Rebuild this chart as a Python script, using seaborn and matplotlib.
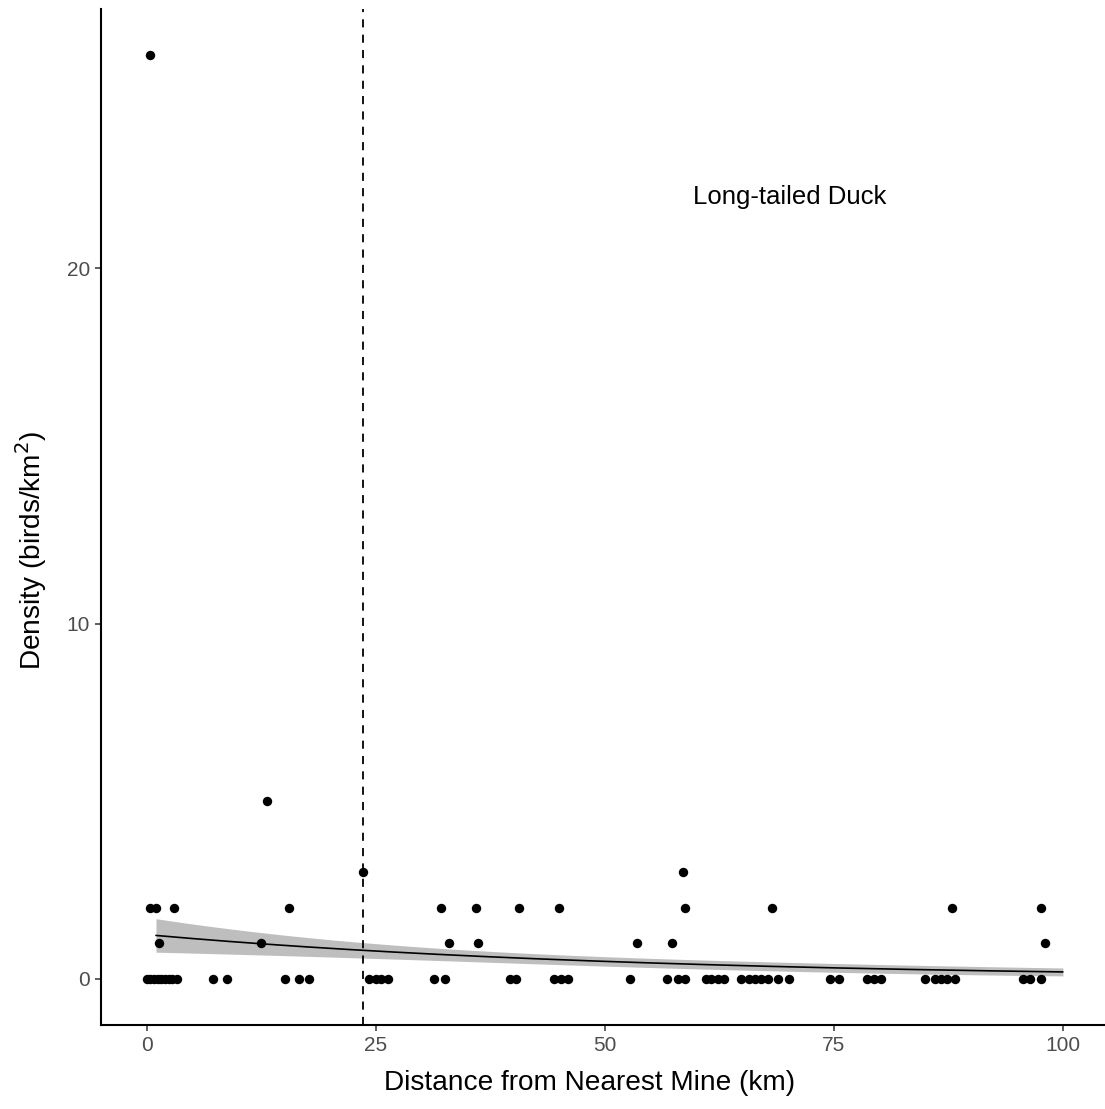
import numpy as np
import pandas as pd
import matplotlib
matplotlib.use("Agg")
import matplotlib.pyplot as plt
import seaborn as sns

# Survey transects: distance to the nearest mine (km) and Long-tailed Duck density
distance_km = [
    # zero-density transects
    0.0, 0.4, 0.8, 1.2, 1.6, 2.0, 2.4, 2.8, 3.3,
    7.2, 8.7, 15.1, 16.6, 17.7,
    24.3, 25.0, 25.6, 26.3, 31.4, 32.5, 39.6, 40.3,
    44.5, 45.2, 46.0, 52.7, 56.8, 58.0, 58.8,
    61.0, 61.6, 62.3, 63.0, 64.9, 65.7, 66.4, 67.1, 67.8, 68.9, 70.1,
    74.6, 75.6, 78.6, 79.4, 80.2, 84.9, 86.0, 86.7, 87.4, 88.2,
    95.7, 96.4, 97.6,
    # density 1
    1.35, 12.5, 33.0, 36.2, 53.5, 57.3, 98.0,
    # density 2
    0.4, 1.0, 3.0, 15.5, 32.1, 35.9, 40.6, 45.05, 58.8, 68.2, 87.95, 97.6,
    # density 3
    23.6, 58.5,
    # density 5
    13.1,
    # density 26
    0.3,
]
density = [0] * 53 + [1] * 7 + [2] * 12 + [3] * 2 + [5] + [26]

# Model trend (log-link GLM prediction) with its 95% confidence limits
trend_x = [1, 20, 46, 72, 100]
trend_fit = [1.20, 0.86, 0.54, 0.33, 0.19]
trend_upper = [1.65, 1.12, 0.67, 0.46, 0.31]
trend_lower = [0.74, 0.60, 0.40, 0.21, 0.09]

mine_threshold_km = 23.6
species = "Long-tailed Duck"
x_ticks = [0, 25, 50, 75, 100]
y_ticks = [0, 10, 20]

df = pd.DataFrame({"distance": distance_km, "density": density})

# Smooth the trend: log-linear mean, quadratic variance on the link scale
tx = np.asarray(trend_x, float)
tf = np.asarray(trend_fit, float)
half = (np.asarray(trend_upper) - np.asarray(trend_lower)) / 2.0
log_coef = np.polyfit(tx, np.log(tf), 1)
var_coef = np.polyfit(tx, (half / tf) ** 2, 2)

grid = np.linspace(tx.min(), tx.max(), 200)
mu_grid = np.exp(np.polyval(log_coef, grid))
rel_half = np.sqrt(np.clip(np.polyval(var_coef, grid), 0, None))
lower = mu_grid * (1 - rel_half)
upper = mu_grid * (1 + rel_half)

sns.set_theme(style="ticks")
plt.rcParams["font.family"] = ["Liberation Sans", "DejaVu Sans"]

fig = plt.figure(figsize=(11.05, 11.09), dpi=100)
ax = fig.add_axes([101 / 1105, 1 - 1025 / 1109, (1105 - 101) / 1105, (1025 - 9) / 1109])

ax.fill_between(grid, lower, upper, color="#BEBEBE", linewidth=0, zorder=1)
sns.lineplot(x=grid, y=mu_grid, ax=ax, color="black", linewidth=1.2, zorder=2)
sns.scatterplot(data=df, x="distance", y="density", ax=ax, color="black",
                s=46, linewidth=0, zorder=3)
ax.axvline(mine_threshold_km, color="black", linewidth=1.3, dashes=(4.5, 4), zorder=2)

ax.text(70.2, 22.0, species, ha="center", va="center", fontsize=18.5, color="black")

ax.set_xlim(-5.0, 104.6)
ax.set_ylim(-1.3, 27.3)
ax.set_xticks(x_ticks)
ax.set_yticks(y_ticks)
ax.tick_params(axis="both", which="major", length=4, width=1.1, color="#333333",
               labelsize=15, labelcolor="#4D4D4D", pad=4)
for side in ("top", "right"):
    ax.spines[side].set_visible(False)
for side in ("left", "bottom"):
    ax.spines[side].set_linewidth(1.5)
    ax.spines[side].set_color("black")

ax.set_xlabel("Distance from Nearest Mine (km)", fontsize=20.2, color="black")
ax.set_ylabel("Density (birds/km$^2$)", fontsize=20.2, color="black")
ax.xaxis.set_label_coords((590 - 101) / 1004, -(1083 - 1025) / 1016, transform=ax.transAxes)
ax.yaxis.set_label_coords(-(101 - 31) / 1004, (1025 - 550) / 1016, transform=ax.transAxes)
ax.xaxis.label.set_va("center")
ax.yaxis.label.set_va("center")

fig.savefig("out.png", dpi=100)
